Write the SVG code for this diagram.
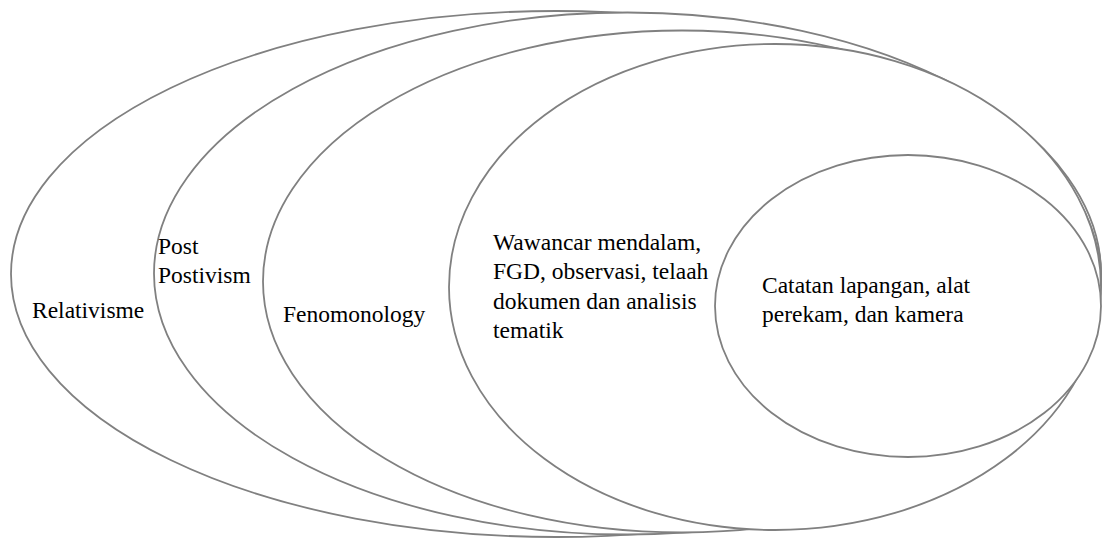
<svg xmlns="http://www.w3.org/2000/svg" width="1102" height="538" viewBox="0 0 1102 538">
  <style>
    .ring { fill: #fff; stroke: #808080; stroke-width: 1.8; }
    .label { font-family: "Liberation Serif", "Times New Roman", serif; font-size: 23.5px; fill: #000; }
  </style>
  <rect width="1102" height="538" fill="#fff"/>

  <!-- Nested rings, outermost first; each white-filled ring covers the ones beneath it -->
  <g id="relativisme">
    <ellipse class="ring" cx="556" cy="274" rx="545" ry="263"/>
    <text class="label" x="32" y="318">Relativisme</text>
  </g>

  <g id="post-postivism">
    <ellipse class="ring" cx="627.5" cy="273.5" rx="473.5" ry="261"/>
    <text class="label" x="158" y="254">Post</text>
    <text class="label" x="158" y="283">Postivism</text>
  </g>

  <g id="fenomonology">
    <ellipse class="ring" cx="682" cy="281.5" rx="419" ry="251"/>
    <text class="label" x="283" y="322">Fenomonology</text>
  </g>

  <g id="metode">
    <ellipse class="ring" cx="775" cy="287" rx="326" ry="243"/>
    <text class="label" x="493" y="250">Wawancar mendalam,</text>
    <text class="label" x="493" y="279.4">FGD, observasi, telaah</text>
    <text class="label" x="493" y="308.8">dokumen dan analisis</text>
    <text class="label" x="493" y="338.2">tematik</text>
  </g>

  <g id="instrumen">
    <ellipse class="ring" cx="908" cy="306" rx="193" ry="151"/>
    <text class="label" x="762" y="293">Catatan lapangan, alat</text>
    <text class="label" x="762" y="322.4">perekam, dan kamera</text>
  </g>

  <g id="connectors"/>
</svg>
